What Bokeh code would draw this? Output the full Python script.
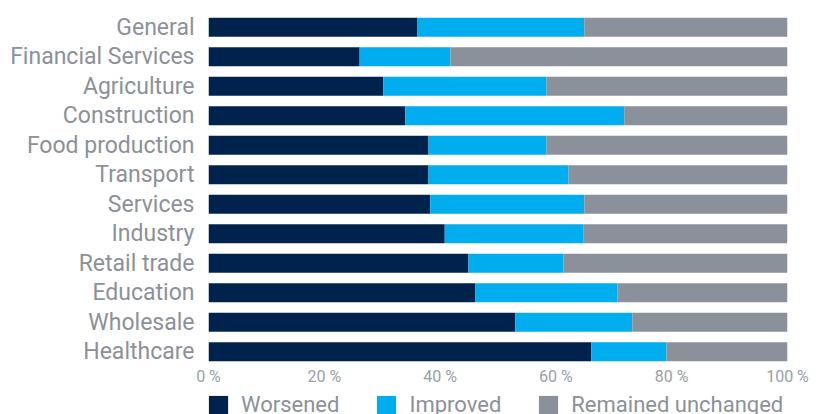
from bokeh.plotting import figure
from bokeh.layouts import column
from bokeh.models import (ColumnDataSource, FactorRange, Range1d, FixedTicker,
                          CustomJSTickFormatter, Legend, LegendItem)
from bokeh.embed import file_html
from bokeh.resources import INLINE

categories = ["General", "Financial Services", "Agriculture", "Construction",
              "Food production", "Transport", "Services", "Industry",
              "Retail trade", "Education", "Wholesale", "Healthcare"]
worsened = [36.1, 26.1, 30.2, 34.0, 38.0, 38.0, 38.3, 40.8, 44.9, 46.1, 53.0, 66.1]
improved = [28.8, 15.7, 28.2, 37.8, 20.4, 24.2, 26.6, 24.0, 16.4, 24.5, 20.2, 13.0]
unchanged = [35.1, 58.2, 41.6, 28.2, 41.6, 37.8, 35.1, 35.2, 38.7, 29.4, 26.8, 20.9]
series_names = ["Worsened", "Improved", "Remained unchanged"]
colors = ["#00234d", "#00adee", "#8b919b"]
ticks = [0, 20, 40, 60, 80, 100]

source = ColumnDataSource(dict(cat=categories, w=worsened, i=improved, u=unchanged))

p = figure(frame_width=579, frame_height=354, y_range=FactorRange(factors=categories[::-1]),
           x_range=Range1d(0, 100), output_backend="svg", toolbar_location=None,
           min_border_left=208, min_border_right=29, min_border_top=12,
           min_border_bottom=20)

p.hbar_stack(["w", "i", "u"], y="cat", height=0.64, color=colors,
             line_color=None, source=source)

p.xgrid.grid_line_color = None
p.ygrid.grid_line_color = None
p.outline_line_color = None

gray = "#8b919b"
p.yaxis.axis_line_color = None
p.yaxis.major_tick_line_color = None
p.yaxis.minor_tick_line_color = None
p.yaxis.major_tick_out = 0
p.yaxis.major_tick_in = 0
p.yaxis.major_label_text_font = "Roboto"
p.yaxis.major_label_text_font_size = "23px"
p.yaxis.major_label_text_color = gray
p.yaxis.major_label_standoff = 14

p.xaxis.ticker = FixedTicker(ticks=ticks)
p.xaxis.formatter = CustomJSTickFormatter(code="return tick + ' %';")
p.xaxis.axis_line_color = None
p.xaxis.major_tick_line_color = None
p.xaxis.minor_tick_line_color = None
p.xaxis.major_tick_out = 0
p.xaxis.major_tick_in = 0
p.xaxis.major_label_text_font = "Roboto"
p.xaxis.major_label_text_font_size = "16px"
p.xaxis.major_label_text_color = "#9aa0a8"
p.xaxis.major_label_standoff = 0

# legend strip below the chart (zero-length bars only provide legend swatches)
lg = figure(frame_width=579, frame_height=28, x_range=Range1d(0, 1), y_range=Range1d(0, 1),
            output_backend="svg", toolbar_location=None,
            x_axis_type=None, y_axis_type=None,
            min_border_left=208, min_border_right=29, min_border_top=0, min_border_bottom=0)
lg.outline_line_color = None
lg.xgrid.grid_line_color = None
lg.ygrid.grid_line_color = None
swatch = ColumnDataSource(dict(y=[0.5], w=[0], i=[0], u=[0]))
lrs = lg.hbar_stack(["w", "i", "u"], y="y", height=0.5, color=colors,
                    line_color=None, source=swatch)

legend = Legend(items=[LegendItem(label=n, renderers=[r]) for n, r in zip(series_names, lrs)],
                orientation="horizontal", location=(-2, -1),
                glyph_width=24, glyph_height=24, label_standoff=11, spacing=35,
                padding=0, margin=0, label_height=24,
                label_text_font="Roboto", label_text_font_size="22px",
                label_text_color=gray, border_line_color=None,
                background_fill_alpha=0)
lg.add_layout(legend)

layout = column(p, lg, spacing=0)
open("out.html", "w").write(file_html(layout, INLINE))
